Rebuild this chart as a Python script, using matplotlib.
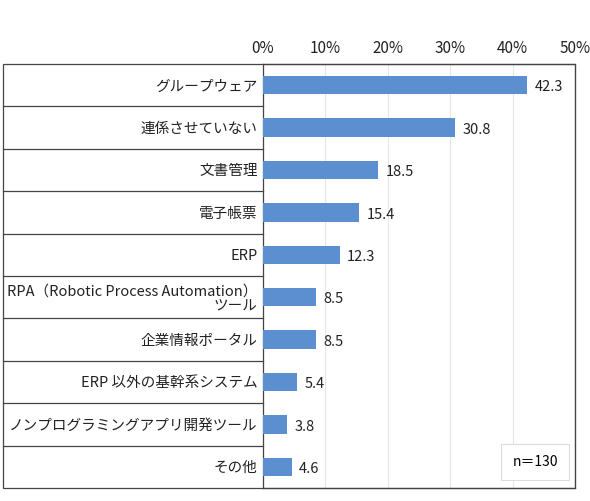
import matplotlib.pyplot as plt
from matplotlib.patches import Rectangle
import matplotlib.transforms as mtransforms

plt.rcParams['font.family'] = ['Noto Sans CJK JP', 'DejaVu Sans']

categories = ['グループウェア', '連係させていない', '文書管理', '電子帳票', 'ERP',
              'RPA（Robotic Process Automation）\nツール', '企業情報ポータル',
              'ERP 以外の基幹系システム', 'ノンプログラミングアプリ開発ツール', 'その他']
values = [42.3, 30.8, 18.5, 15.4, 12.3, 8.5, 8.5, 5.4, 3.8, 4.6]
ticks = [0, 10, 20, 30, 40, 50]
note = 'n＝130'

W, H = 590, 501
fig = plt.figure(figsize=(W / 100, H / 100), dpi=100)
left, right, top, bottom = 263, 575, 64, 488
ax = fig.add_axes([left / W, 1 - bottom / H, (right - left) / W, (bottom - top) / H])

ys = list(range(len(categories)))
ax.barh(ys, values, height=0.43, color='#5B8FD0', zorder=3)
for y, v in zip(ys, values):
    ax.text(v + 1.2, y + 0.05, f'{v:.1f}', va='center', ha='left', fontsize=10.5, color='#222222')

ax.set_xlim(0, 50)
ax.set_ylim(len(categories) - 0.5, -0.5)
ax.set_xticks(ticks)
ax.set_xticklabels([f'{t}%' for t in ticks], fontsize=11)
ax.xaxis.tick_top()
ax.tick_params(axis='x', length=0, pad=5, colors='#222222')
ax.set_yticks(ys)
ax.set_yticklabels(categories, fontsize=10.5, linespacing=1.05)
ax.tick_params(axis='y', length=0, pad=4, colors='#222222')
ax.grid(axis='x', color='#E6E6E6', linewidth=0.8, zorder=0)
for s in ax.spines.values():
    s.set_color('#444444')
    s.set_linewidth(0.9)
ax.spines['right'].set_color('#999999')

# label column separators and outer frame
trans = mtransforms.blended_transform_factory(fig.transFigure, ax.transData)
for i in range(len(categories) - 1):
    ax.plot([3 / W, left / W], [i + 0.5, i + 0.5], transform=trans, color='#444444',
            linewidth=0.9, clip_on=False)
fig.add_artist(Rectangle((3 / W, 1 - bottom / H), (right - 3) / W, (bottom - top) / H,
                         transform=fig.transFigure, fill=False, edgecolor='#444444', linewidth=0.9))

ax.text(0.945, 0.045, note, transform=ax.transAxes, ha='right', va='bottom', fontsize=10,
        bbox=dict(boxstyle='square,pad=0.8', facecolor='white', edgecolor='#DDDDDD', linewidth=0.8),
        zorder=5)

fig.savefig('out.png', dpi=100)
